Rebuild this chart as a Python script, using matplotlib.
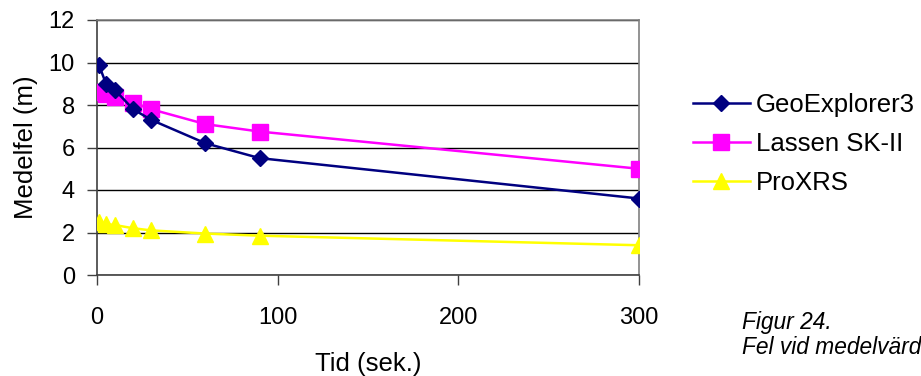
import matplotlib
matplotlib.use("Agg")
import matplotlib.pyplot as plt

plt.rcParams['font.family'] = ['Liberation Sans', 'DejaVu Sans']

tid = [1, 5, 10, 20, 30, 60, 90, 300]
geo = [9.9, 9.0, 8.7, 7.8, 7.3, 6.2, 5.5, 3.6]
lassen = [8.6, 8.5, 8.4, 8.1, 7.8, 7.1, 6.75, 5.0]
proxrs = [2.5, 2.4, 2.35, 2.2, 2.1, 1.95, 1.85, 1.4]
names = ["GeoExplorer3", "Lassen SK-II", "ProXRS"]
xticks = [0, 100, 200, 300]
yticks = [0, 2, 4, 6, 8, 10, 12]

fig = plt.figure(figsize=(9.21, 3.76), dpi=100)
ax = fig.add_axes([97/921, 1-275/376, 542/921, 255/376])

ax.plot(tid, geo, color='#000080', marker='D', markersize=8.5, lw=1.8, label=names[0], zorder=5)
ax.plot(tid, lassen, color='#FF00FF', marker='s', markersize=11, lw=1.8, label=names[1], zorder=4)
ax.plot(tid, proxrs, color='#FFFF00', marker='^', markersize=12, lw=1.8, label=names[2], zorder=3)

ax.set_xlim(0, 300)
ax.set_ylim(0, 12)
ax.set_xticks(xticks)
ax.set_yticks(yticks)
ax.yaxis.grid(True, color='black', lw=1)
ax.set_axisbelow(True)
for s in ['top', 'right']:
    ax.spines[s].set_color('#808080')
    ax.spines[s].set_linewidth(1.2)
for s in ['left', 'bottom']:
    ax.spines[s].set_color('#404040')
    ax.spines[s].set_linewidth(1.2)
ax.tick_params(direction='out', length=7, width=1, color='#404040', labelsize=17)
ax.tick_params(axis='x', pad=16)
ax.tick_params(axis='y', pad=9)
ax.set_xlabel("Tid (sek.)", fontsize=18.5)
ax.xaxis.set_label_coords(0.5, (275-376)/255)
ax.xaxis.label.set_va('bottom')
ax.set_ylabel("Medelfel (m)", fontsize=18.5)
ax.yaxis.set_label_coords((38-97)/542, 0.5)
ax.yaxis.label.set_va('bottom')

leg = fig.legend(loc='center left', bbox_to_anchor=(693/921, 1-144/376), frameon=False,
                 fontsize=18.5, handlelength=2.2, labelspacing=0.58, handletextpad=0.25,
                 borderpad=0, borderaxespad=0)

fig.text(742/921, 1-322/376, "Figur 24.", fontsize=16.4, style='italic', va='center')
fig.text(742/921, 1-348/376, "Fel vid medelvärd", fontsize=16.4, style='italic', va='center')

fig.savefig("out.png", dpi=100)
